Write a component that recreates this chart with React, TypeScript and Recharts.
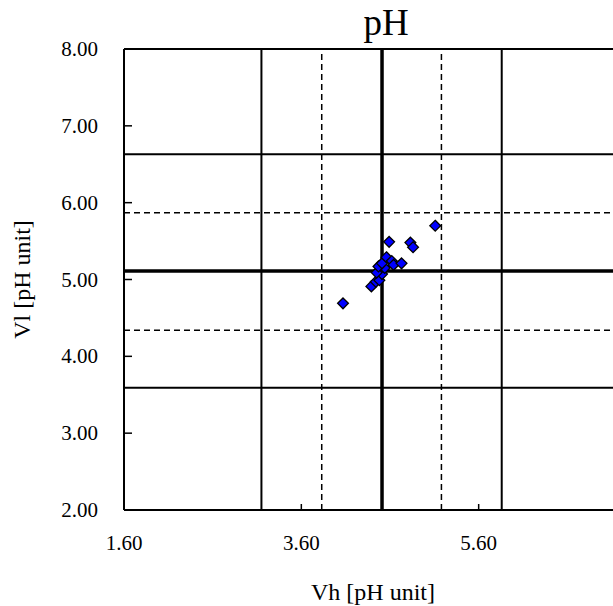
import React from 'react';
import { ScatterChart, Scatter, XAxis, YAxis, ReferenceLine, Label } from 'recharts';

// Measured values (Vh on x, Vl on y)
const xValues = [4.07, 4.39, 4.44, 4.48, 4.51, 4.45, 4.54, 4.47, 4.51, 4.56, 4.62, 4.64, 4.73, 4.59, 4.83, 4.86, 5.11];
const yValues = [4.69, 4.91, 4.97, 4.99, 5.07, 5.09, 5.15, 5.17, 5.21, 5.29, 5.24, 5.19, 5.21, 5.49, 5.48, 5.42, 5.70];

// Criteria lines
const xCenter = [4.51];
const xDashed = [3.83, 5.18];
const xSolid = [3.15, 5.86];
const yCenter = [5.11];
const yDashed = [4.34, 5.87];
const ySolid = [3.59, 6.63];

const xTicks = [1.6, 3.6, 5.6];
const yTicks = [2, 3, 4, 5, 6, 7, 8];

const title = 'pH';
const xTitle = 'Vh [pH unit]';
const yTitle = 'Vl [pH unit]';

const FONT = '"Liberation Serif", "Times New Roman", serif';

const points = xValues.map((x, i) => ({ x, y: yValues[i] }));

const Diamond = (props: any) => {
  const { cx, cy } = props;
  const r = 5.4;
  return (
    <polygon
      points={`${cx},${cy - r} ${cx + r},${cy} ${cx},${cy + r} ${cx - r},${cy}`}
      fill="#0000FF"
      stroke="#000"
      strokeWidth={1.3}
    />
  );
};

const renderXTick = (props: any) => {
  const { x, y, payload } = props;
  return (
    <g key={'xt' + payload.value}>
      <line x1={x} y1={y} x2={x} y2={y - 6} stroke="#000" strokeWidth={1.5} />
      <text x={x} y={y + 40} textAnchor="middle" style={{ fontFamily: FONT, fontSize: 21 }} fill="#000">
        {Number(payload.value).toFixed(2)}
      </text>
    </g>
  );
};

const renderYTick = (props: any) => {
  const { x, y, payload } = props;
  return (
    <g key={'yt' + payload.value}>
      <line x1={x} y1={y} x2={x + 8} y2={y} stroke="#000" strokeWidth={1.5} />
      <text x={x - 26} y={y + 7} textAnchor="end" style={{ fontFamily: FONT, fontSize: 21 }} fill="#000">
        {Number(payload.value).toFixed(2)}
      </text>
    </g>
  );
};

const TitleContent = (props: any) => {
  const vb = props.viewBox || {};
  return (
    <text x={vb.x + vb.width / 2 - 4} y={vb.y - 14} textAnchor="middle" fontFamily={FONT} fontSize={37} fill="#000">
      {title}
    </text>
  );
};

const XTitleContent = (props: any) => {
  const vb = props.viewBox || {};
  return (
    <text x={vb.x + 249} y={vb.y + 90} textAnchor="middle" fontFamily={FONT} fontSize={24} fill="#000">
      {xTitle}
    </text>
  );
};

const YTitleContent = (props: any) => {
  const vb = props.viewBox || {};
  const cx = vb.x + 30;
  const cy = vb.y + vb.height / 2;
  return (
    <text x={cx} y={cy} textAnchor="middle" fontFamily={FONT} fontSize={24} fill="#000" transform={`rotate(-90, ${cx}, ${cy})`}>
      {yTitle}
    </text>
  );
};

export default function App() {
  return (
    <div style={{ position: 'fixed', left: 0, top: 0, width: 613, height: 606, overflow: 'hidden', background: '#fff' }}>
      <ScatterChart width={680} height={606} margin={{ top: 49, right: 24, bottom: 0, left: 0 }}>
        <XAxis
          type="number"
          dataKey="x"
          domain={[1.6, 7.6]}
          ticks={xTicks}
          allowDataOverflow
          height={96}
          axisLine={{ stroke: '#000', strokeWidth: 2 }}
          tickLine={false}
          tickSize={0}
          tickMargin={0}
          tick={renderXTick}
          label={<Label content={XTitleContent} />}
        />
        <YAxis
          type="number"
          dataKey="y"
          domain={[2, 8]}
          ticks={yTicks}
          allowDataOverflow
          width={124}
          axisLine={{ stroke: '#000', strokeWidth: 2 }}
          tickLine={false}
          tickSize={0}
          tickMargin={0}
          tick={renderYTick}
          label={<Label content={YTitleContent} />}
        />
        <ReferenceLine y={8} stroke="#000" strokeWidth={2} label={<Label content={TitleContent} />} />
        {ySolid.map((v, i) => (
          <ReferenceLine key={'ys' + i} y={v} stroke="#000" strokeWidth={2} />
        ))}
        {yDashed.map((v, i) => (
          <ReferenceLine key={'yd' + i} y={v} stroke="#000" strokeWidth={1.5} strokeDasharray="6 4" />
        ))}
        {yCenter.map((v, i) => (
          <ReferenceLine key={'yc' + i} y={v} stroke="#000" strokeWidth={3.5} />
        ))}
        {xSolid.map((v, i) => (
          <ReferenceLine key={'xs' + i} x={v} stroke="#000" strokeWidth={2} />
        ))}
        {xDashed.map((v, i) => (
          <ReferenceLine key={'xd' + i} x={v} stroke="#000" strokeWidth={1.5} strokeDasharray="6 4" />
        ))}
        {xCenter.map((v, i) => (
          <ReferenceLine key={'xc' + i} x={v} stroke="#000" strokeWidth={3.5} />
        ))}
        <Scatter data={points} shape={Diamond} isAnimationActive={false} />
      </ScatterChart>
    </div>
  );
}
